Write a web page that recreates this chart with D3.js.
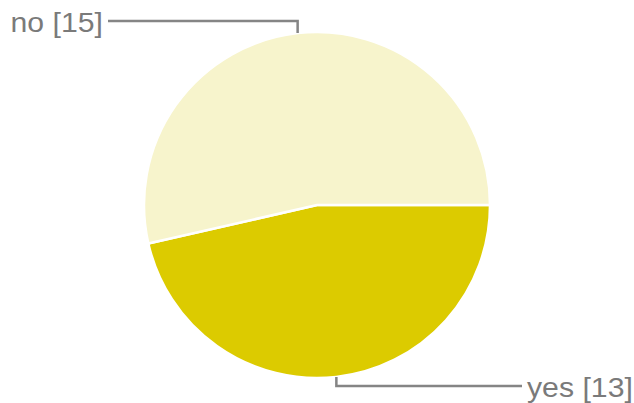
<!DOCTYPE html>
<html>
  <head>
    <meta charset="utf-8">
    <style>
      body {
        margin: 0;
        background: white;
        font-family: "Liberation Sans", Arial, sans-serif;
      }
    </style>
    <script src="https://cdn.jsdelivr.net/npm/d3@7"></script>
  </head>
  <body>
    <svg id="Pie"></svg>
  </body>
  <script>
    // answers and counts
    let labels = ["yes", "no"];
    let counts = [13, 15];
    let colors = ["#dccb00", "#f7f4cc"];

    function getConfig() {
      let width = 634;
      let height = 403;
      let cx = 317;
      let cy = 205;
      let radius = 173;
      let container = d3.select("#Pie");
      container.attr("width", width).attr("height", height);
      return { width, height, cx, cy, radius, container };
    }

    function drawPie(config) {
      let { cx, cy, radius, container } = config;
      let data = labels.map((l, i) => ({ label: l, count: counts[i], color: colors[i] }));

      // first slice begins at 3 o'clock and runs clockwise
      let pie = d3
        .pie()
        .sort(null)
        .value((d) => d.count)
        .startAngle(Math.PI / 2)
        .endAngle(Math.PI / 2 + 2 * Math.PI);
      let arc = d3.arc().innerRadius(0).outerRadius(radius);

      let body = container.append("g").attr("transform", `translate(${cx},${cy})`);

      body
        .selectAll("path")
        .data(pie(data))
        .enter()
        .append("path")
        .attr("d", arc)
        .attr("fill", (d) => d.data.color)
        .attr("stroke", "white")
        .attr("stroke-width", 2.5);

      // leader lines go straight up/down from the slice middle, then sideways
      pie(data).forEach((d) => {
        let mid = (d.startAngle + d.endAngle) / 2;
        let x0 = radius * Math.sin(mid);
        let y0 = -radius * Math.cos(mid);
        let top = y0 < 0;
        let yElbow = top ? -radius - 11 : radius + 8;
        let xEnd = top ? -209 : 205;

        body
          .append("path")
          .attr("d", `M${x0},${y0}L${x0},${yElbow}L${xEnd},${yElbow}`)
          .attr("fill", "none")
          .attr("stroke", "#858585")
          .attr("stroke-width", 2.5);

        // the original labels are a little wider than the font, so stretch them
        body
          .append("text")
          .attr("transform", `translate(${top ? xEnd - 5 : xEnd + 5},${yElbow + 11}) scale(1.12,1)`)
          .attr("text-anchor", top ? "end" : "start")
          .attr("font-size", 27)
          .attr("fill", "#7a7a7a")
          .text(`${d.data.label} [${d.data.count}]`);
      });
    }

    drawPie(getConfig());
  </script>
</html>
